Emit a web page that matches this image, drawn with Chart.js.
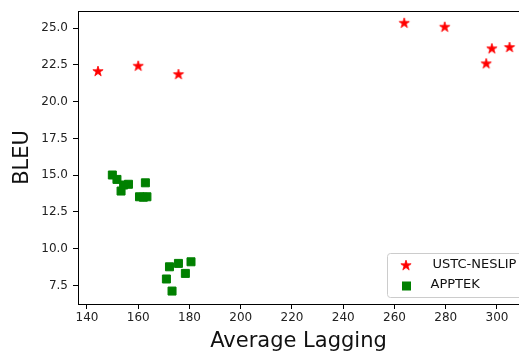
<!DOCTYPE html>
<html><head><meta charset="utf-8">
<script src="https://cdn.jsdelivr.net/npm/chart.js@4.4.0/dist/chart.umd.min.js"></script>
<style>
html,body{margin:0;padding:0;overflow:hidden;background:#fff;width:519px;height:354px}
canvas{display:block}
</style></head><body>
<canvas id="c" width="519" height="354"></canvas>
<script>
// ---- data ----
const ustcLag  = [144.3, 160.0, 175.7, 263.8, 279.6, 298.0, 295.8, 304.9];
const ustcBleu = [22.08, 22.44, 21.87, 25.36, 25.09, 23.62, 22.60, 23.71];
const apptekLag  = [149.9, 151.7, 153.3, 154.3, 156.2, 162.8, 160.5, 162.0, 163.4, 172.2, 175.7, 180.6, 171.0, 178.4, 173.2];
const apptekBleu = [15.01, 14.71, 13.92, 14.33, 14.38, 14.48, 13.53, 13.50, 13.53, 8.77, 9.00, 9.11, 7.94, 8.32, 7.12];
const seriesNames = ['USTC-NESLIP', 'APPTEK'];
const xTickStep = 20;
const yTickStep = 2.5;
const xLabel = 'Average Lagging';
const yLabel = 'BLEU';

function toPoints(xs, ys){ return xs.map((x,i)=>({x:x, y:ys[i]})); }

function starPath(ctx, cx, cy, R){
  const r = R * 0.381966;
  ctx.beginPath();
  for (let i = 0; i < 10; i++){
    const a = -Math.PI/2 + i * Math.PI/5;
    const rr = (i % 2 === 0) ? R : r;
    const px = cx + rr*Math.cos(a), py = cy + rr*Math.sin(a);
    if (i === 0) ctx.moveTo(px, py); else ctx.lineTo(px, py);
  }
  ctx.closePath();
}
const starImg = document.createElement('canvas');
starImg.width = 14; starImg.height = 14;
(function(){
  const g = starImg.getContext('2d');
  starPath(g, 7, 7.4, 5.4);
  g.fillStyle = '#ff0000'; g.fill();
  g.strokeStyle = '#ff0000'; g.lineWidth = 0.8; g.lineJoin='round'; g.stroke();
})();

const FONT = "'DejaVu Sans', sans-serif";

const framePlugin = {
  id: 'frame',
  afterDraw(chart){
    const {ctx, chartArea:a} = chart;
    ctx.save();
    ctx.strokeStyle = '#000'; ctx.lineWidth = 1;
    ctx.beginPath();
    ctx.moveTo(a.left, Math.round(a.top)+0.5); ctx.lineTo(a.right + 5, Math.round(a.top)+0.5);
    ctx.stroke();
    // legend (lower right, inside axes; extends past the visible edge)
    const bx = a.left + 309.5, by = a.bottom - 50.5, bw = 170, bh = 44;
    ctx.fillStyle = 'rgba(255,255,255,0.8)';
    ctx.strokeStyle = '#cccccc';
    ctx.beginPath();
    ctx.roundRect(bx, by, bw, bh, 3);
    ctx.fill(); ctx.stroke();
    ctx.drawImage(starImg, bx + 18.5 - 7, by + 12 - 7.4);
    ctx.fillStyle = '#008000';
    ctx.fillRect(bx + 14.5, by + 28, 9, 9);
    ctx.fillStyle = '#111';
    ctx.font = "13px " + FONT;
    ctx.textBaseline = 'middle';
    ctx.textAlign = 'left';
    ctx.fillText(seriesNames[0], bx + 45, by + 11);
    ctx.fillText(seriesNames[1], bx + 43, by + 31.5);
    ctx.restore();
  }
};

new Chart(document.getElementById('c'), {
  type: 'scatter',
  data: {
    datasets: [
      { label: seriesNames[0], data: toPoints(ustcLag, ustcBleu),
        pointStyle: starImg, pointRadius: 6, backgroundColor:'#ff0000', borderColor:'#ff0000' },
      { label: seriesNames[1], data: toPoints(apptekLag, apptekBleu),
        pointStyle: 'rect', pointRadius: 5.66, borderWidth: 1,
        backgroundColor:'#008000', borderColor:'#008000' }
    ]
  },
  options: {
    responsive: false,
    animation: false,
    events: [],
    devicePixelRatio: 1,
    layout: { autoPadding: false, padding: { left: 0, right: 0, top: 11, bottom: 0 } },
    plugins: { legend: { display: false }, tooltip: { enabled: false } },
    scales: {
      x: {
        type: 'linear', min: 136.5, max: 308.6,
        afterFit(s){ s.height = 50; s.paddingLeft = 0; s.paddingRight = 0; },
        border: { display: true, color: '#000', width: 1 },
        grid: { display: true, drawOnChartArea: false, drawTicks: true, tickLength: 5, color: '#000' },
        ticks: { stepSize: xTickStep, includeBounds: false, padding: 2, color: '#222',
                 font: { family: FONT, size: 12 }, maxRotation: 0, autoSkip: false },
        title: { display: true, text: xLabel, color: '#111',
                 font: { family: FONT, size: 21 }, padding: { top: 0, bottom: 0 } }
      },
      y: {
        type: 'linear', min: 6.24, max: 26.16,
        afterFit(s){ s.width = 78; s.paddingTop = 0; s.paddingBottom = 0; },
        border: { display: true, color: '#000', width: 1 },
        grid: { display: true, drawOnChartArea: false, drawTicks: true, tickLength: 5, color: '#000' },
        ticks: { stepSize: yTickStep, includeBounds: false, padding: 5, color: '#222',
                 font: { family: FONT, size: 12 }, callback: v => v.toFixed(1), autoSkip: false },
        title: { display: true, text: yLabel, color: '#111',
                 font: { family: FONT, size: 21 }, padding: { top: 10, bottom: 0 } }
      }
    }
  },
  plugins: [framePlugin]
});
</script>
</body></html>
